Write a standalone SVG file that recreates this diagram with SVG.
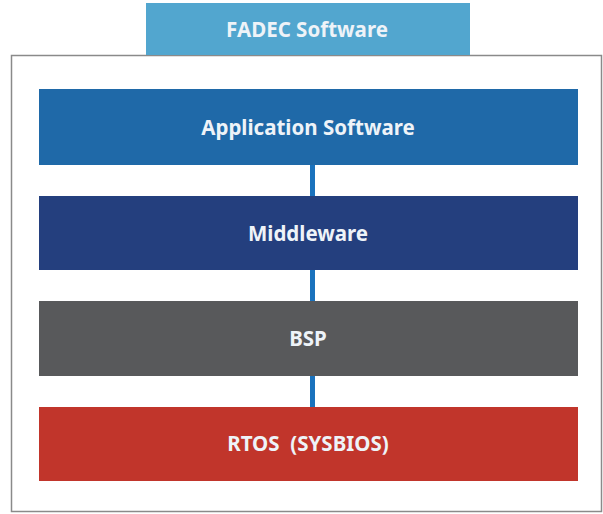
<svg xmlns="http://www.w3.org/2000/svg" width="603" height="514" viewBox="0 0 603 514">
<style>
.lbl{font-family:"Noto Sans","Open Sans","Liberation Sans",sans-serif;font-weight:bold;font-size:20.5px;fill:#eef3f8;text-anchor:middle;dominant-baseline:central}
</style>
<rect width="603" height="514" fill="#ffffff"/>
<g id="frame">
<rect x="11.5" y="55.5" width="590" height="456" fill="#ffffff" stroke="#8a8a8a" stroke-width="1.5"/>
</g>
<g id="connectors">
<rect x="310" y="165" width="5" height="242" fill="#1a72bd"/>
</g>
<g id="fadec">
<rect x="146" y="3" width="324" height="52" fill="#52a6cf"/>
<text class="lbl" x="307" y="29">FADEC Software</text>
</g>
<g id="application">
<rect x="39" y="89" width="539" height="76" fill="#1f69a8"/>
<text class="lbl" x="308" y="127">Application Software</text>
</g>
<g id="middleware">
<rect x="39" y="196" width="539" height="74" fill="#243f7e"/>
<text class="lbl" x="308" y="233">Middleware</text>
</g>
<g id="bsp">
<rect x="39" y="301" width="539" height="75" fill="#58595b"/>
<text class="lbl" x="308" y="338">BSP</text>
</g>
<g id="rtos">
<rect x="39" y="407" width="539" height="74" fill="#c1352b"/>
<text class="lbl" x="308" y="443" xml:space="preserve">RTOS  (SYSBIOS)</text>
</g>
</svg>
